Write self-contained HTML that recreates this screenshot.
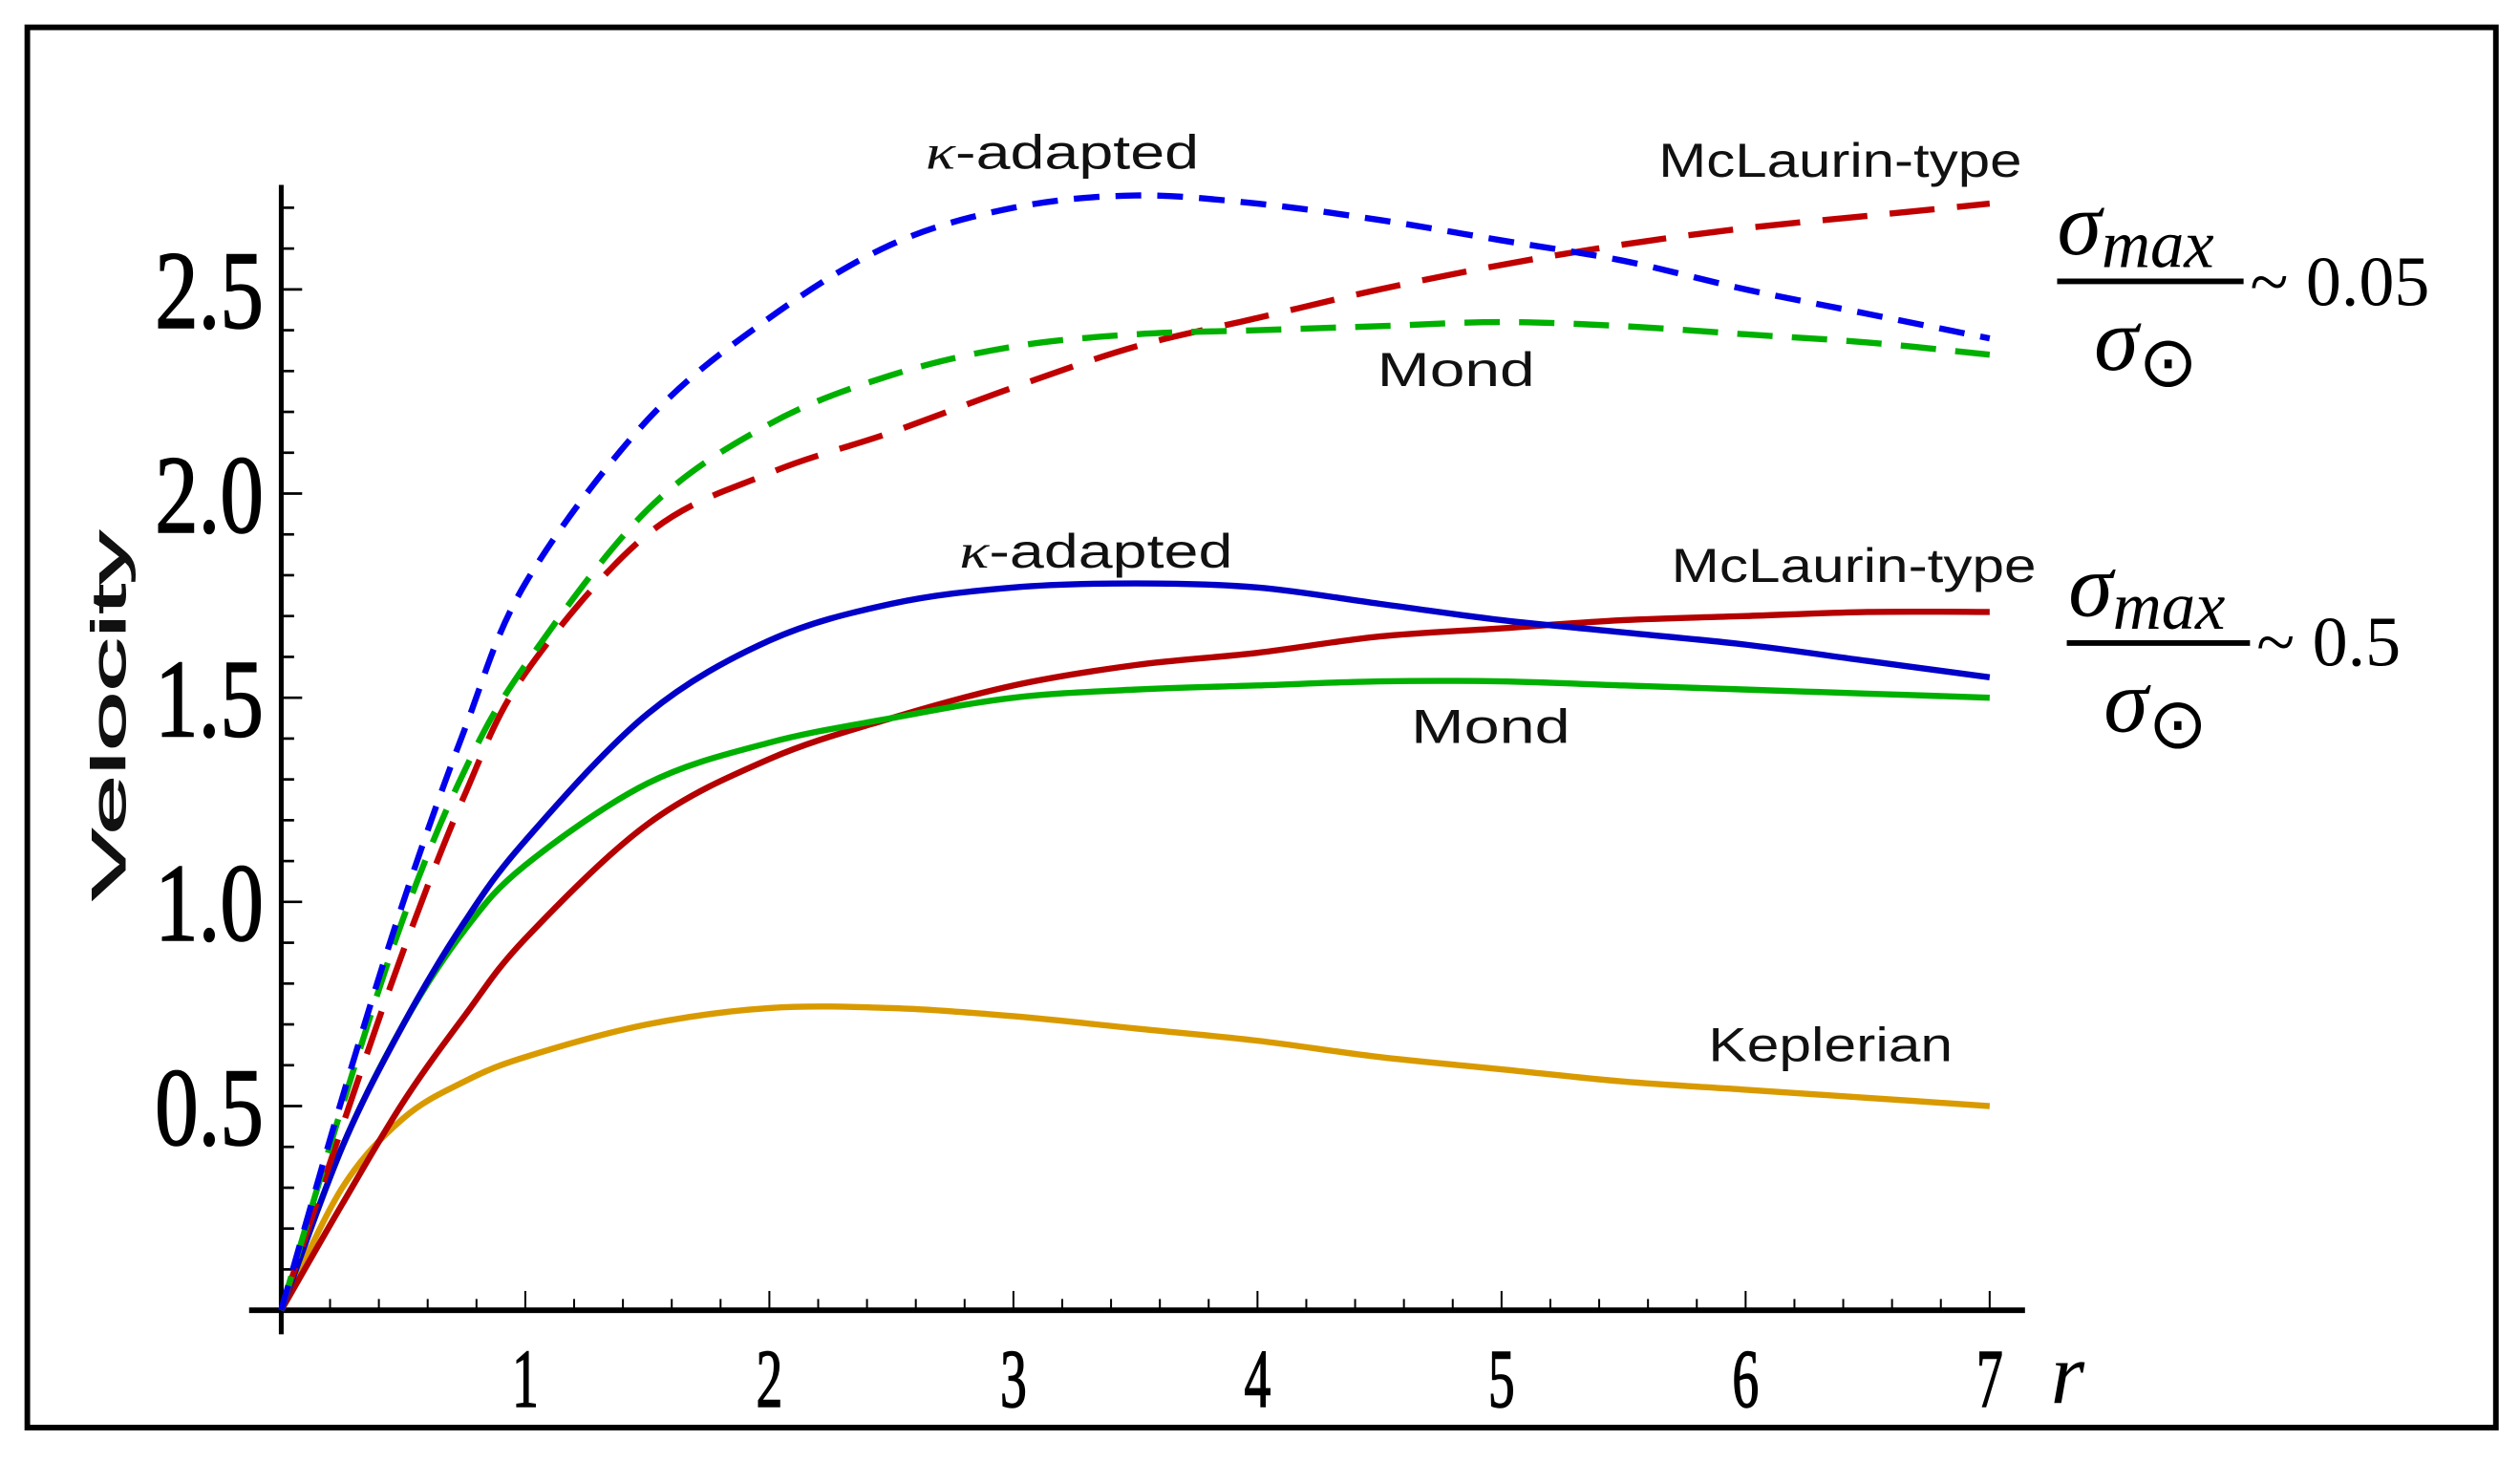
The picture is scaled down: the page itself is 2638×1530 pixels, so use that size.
<!DOCTYPE html>
<html><head><meta charset="utf-8"><style>
html,body{margin:0;padding:0;background:#fff;width:2638px;height:1530px;overflow:hidden}
svg{display:block}
.tick{font-family:"Liberation Serif",serif;}
.lab{font-family:"Liberation Sans",sans-serif;fill:#111;font-size:30px}
.math{font-family:"Liberation Serif",serif;font-style:italic;fill:#000}
</style></head><body>
<svg id="chart" width="2638" height="1530" viewBox="0 0 1568 909.4" xmlns="http://www.w3.org/2000/svg">
<rect x="17" y="17" width="1536" height="871" fill="none" stroke="#000" stroke-width="3.5"/>
<g id="axes"></g>
<g id="curves"></g>
<text class="lab" transform="translate(78,445) rotate(-90)" text-anchor="middle" font-size="48" stroke="#111" stroke-width="0.6" textLength="230" lengthAdjust="spacingAndGlyphs">Velocity</text>
<text class="math" x="1276" y="873" font-size="54">r</text>
<text class="lab" x="576" y="105" textLength="170" lengthAdjust="spacingAndGlyphs"><tspan font-style="italic" font-family="Liberation Serif">κ</tspan>-adapted</text>
<text class="lab" x="1032" y="110" textLength="226" lengthAdjust="spacingAndGlyphs">McLaurin-type</text>
<text class="lab" x="857" y="240" textLength="98" lengthAdjust="spacingAndGlyphs">Mond</text>
<text class="lab" x="597" y="353" textLength="170" lengthAdjust="spacingAndGlyphs"><tspan font-style="italic" font-family="Liberation Serif">κ</tspan>-adapted</text>
<text class="lab" x="1040" y="362" textLength="227" lengthAdjust="spacingAndGlyphs">McLaurin-type</text>
<text class="lab" x="878" y="462" textLength="99" lengthAdjust="spacingAndGlyphs">Mond</text>
<text class="lab" x="1063" y="660" textLength="152" lengthAdjust="spacingAndGlyphs">Keplerian</text>
<g>
<text class="math" x="1280" y="158" font-size="56">σ<tspan font-size="42" dy="8">max</tspan></text>
<line x1="1280" y1="175" x2="1396" y2="175" stroke="#000" stroke-width="3.5"/>
<text class="math" x="1303" y="230" font-size="56">σ<tspan font-style="normal" font-size="44" dy="10">⊙</tspan></text>
<text class="tick" x="1400" y="190" font-size="44">~ 0.05</text>
</g>
<g>
<text class="math" x="1287" y="383" font-size="56">σ<tspan font-size="42" dy="8">max</tspan></text>
<line x1="1286" y1="400" x2="1400" y2="400" stroke="#000" stroke-width="3.5"/>
<text class="math" x="1309" y="455" font-size="56">σ<tspan font-style="normal" font-size="44" dy="10">⊙</tspan></text>
<text class="tick" x="1404" y="414" font-size="44">~ 0.5</text>
</g>
</svg>
<script>
const rGrid = [0,0.25,0.5,0.75,1,1.5,2,2.5,3,3.5,4,4.5,5,5.5,6,6.5,7];
const kappaHigh = [0,0.52,1.0,1.42,1.78,2.18,2.43,2.61,2.7,2.73,2.71,2.67,2.62,2.57,2.5,2.44,2.38];
const mondHigh = [0,0.5,0.96,1.32,1.58,1.96,2.17,2.29,2.36,2.39,2.4,2.41,2.42,2.41,2.39,2.37,2.34];
const mclaurinHigh = [0,0.45,0.88,1.26,1.56,1.9,2.05,2.15,2.26,2.36,2.43,2.5,2.56,2.61,2.65,2.68,2.71];
const kappaLow = [0,0.4,0.7,0.95,1.15,1.46,1.64,1.73,1.77,1.78,1.77,1.73,1.69,1.66,1.63,1.59,1.55];
const mondLow = [0,0.4,0.7,0.93,1.09,1.29,1.39,1.45,1.5,1.52,1.53,1.54,1.54,1.53,1.52,1.51,1.5];
const mclaurinLow = [0,0.26,0.51,0.72,0.91,1.19,1.35,1.45,1.53,1.58,1.61,1.65,1.67,1.69,1.7,1.71,1.71];
const keplerian = [0,0.3,0.47,0.56,0.62,0.7,0.74,0.74,0.72,0.69,0.66,0.62,0.59,0.56,0.54,0.52,0.5];
const xTickLabels = ["1","2","3","4","5","6","7"];
const yTickLabels = ["0.5","1.0","1.5","2.0","2.5"];

const NS="http://www.w3.org/2000/svg";
const X0=175, XU=151.86, Y0=815, YU=254;
function sx(r){return X0+XU*r;}
function sy(v){return Y0-YU*v;}
function mk(tag,attrs,parent){const e=document.createElementNS(NS,tag);for(const k in attrs)e.setAttribute(k,attrs[k]);parent.appendChild(e);return e;}

const axes=document.getElementById('axes');
let e;
e=mk('line',{x1:175,y1:115,x2:175,y2:830,stroke:'#000','stroke-width':3},axes);


e=mk('line',{x1:155,y1:815,x2:1260,y2:815,stroke:'#000','stroke-width':3.5},axes);


for(let i=1;i<=27;i++){const v=i/10;const maj=i%5===0;
  e=mk('line',{x1:175,y1:sy(v),x2:175+(maj?13:8),y2:sy(v),stroke:'#000','stroke-width':1.6},axes);
  
  }
for(let i=1;i<=35;i++){const r=i/5;const maj=i%5===0;
  e=mk('line',{x1:sx(r),y1:815,x2:sx(r),y2:815-(maj?12:7),stroke:'#000','stroke-width':1.2},axes);
  
  }
xTickLabels.forEach((t,i)=>{const r=i+1;
  e=mk('text',{x:0,y:0,'text-anchor':'middle','class':'tick','font-size':46,stroke:'#000','stroke-width':0.8,transform:`translate(${sx(r)},875) scale(0.72,1.12)`},axes);
  e.textContent=t;
  
  });
yTickLabels.forEach((t,i)=>{const v=(i+1)*0.5;
  e=mk('text',{x:0,y:0,'text-anchor':'end','class':'tick','font-size':66,stroke:'#000','stroke-width':0.9,transform:`translate(164,${sy(v)+24}) scale(0.82,1.05)`},axes);
  e.textContent=t;
  
  });

function pathFor(vals){
  const p=rGrid.map((r,i)=>[sx(r),sy(vals[i])]);
  let d=`M${p[0][0]},${p[0][1]}`;
  for(let i=0;i<p.length-1;i++){
    const a=p[Math.max(0,i-1)],b=p[i],c=p[i+1],n=p[Math.min(p.length-1,i+2)];
    const c1=[b[0]+(c[0]-a[0])/6,b[1]+(c[1]-a[1])/6];
    const c2=[c[0]-(n[0]-b[0])/6,c[1]-(n[1]-b[1])/6];
    d+=` C${c1[0]},${c1[1]} ${c2[0]},${c2[1]} ${c[0]},${c[1]}`;
  }
  return d;
}
const curves=document.getElementById('curves');
function draw(vals,color,dash,name){
  const el=mk('path',{d:pathFor(vals),fill:'none',stroke:color,'stroke-width':3.8,'stroke-dasharray':dash||'none','stroke-linecap':'butt'},curves);
  
  
}
draw(keplerian,'#d99a00',null,'keplerian-curve');
draw(mclaurinLow,'#b40000',null,'mclaurin-low-curve');
draw(mondLow,'#00b000',null,'mond-low-curve');
draw(kappaLow,'#0000c8',null,'kappa-adapted-low-curve');
draw(mclaurinHigh,'#c00000','28 14','mclaurin-high-curve');
draw(mondHigh,'#00b000','22 12','mond-high-curve');
draw(kappaHigh,'#0000ee','16 10','kappa-adapted-high-curve');
</script>
</body></html>
